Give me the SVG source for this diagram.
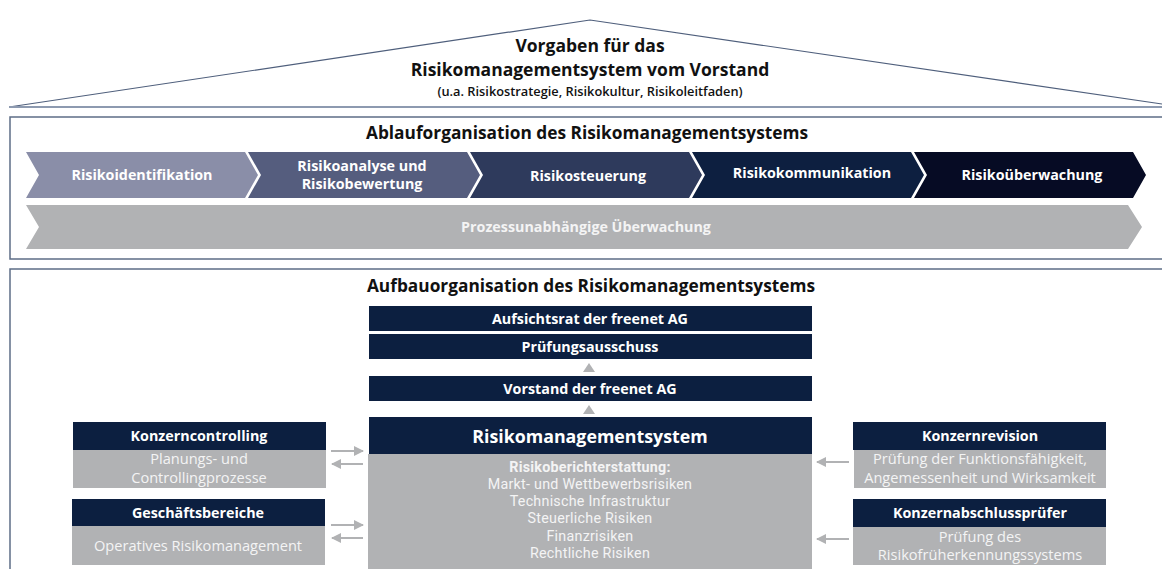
<svg xmlns="http://www.w3.org/2000/svg" width="1162" height="569" viewBox="0 0 1162 569">
<defs>
<style>
.t{font-family:"Open Sans","Noto Sans","Liberation Sans",sans-serif;text-anchor:middle}
.tr{font-family:Roboto,"Liberation Sans",sans-serif;text-anchor:middle;font-size:14.3px;letter-spacing:0.25px}
.b{font-weight:700}
.w{fill:#ffffff}
.lw{fill:#f4f4f4}
.k{fill:#111111}
.nav{fill:#0c1f40}
.gr{fill:#b1b2b4}
.frame{fill:none;stroke:#5d6d87;stroke-width:1.5}
.arr{stroke:#b1b2b4;stroke-width:2;fill:none}
.h{font-size:17.3px}
.c{font-size:14.3px}
.n{font-size:14.3px}
.r{font-size:14.6px}
</style>
<marker id="ah" viewBox="0 0 10 10" refX="9" refY="5" markerWidth="10" markerHeight="10" markerUnits="userSpaceOnUse" orient="auto">
<path d="M0,0 L10,5 L0,10 Z" fill="#b1b2b4"/>
</marker>
</defs>
<rect width="1162" height="569" fill="#ffffff"/>

<g id="roof">
<polyline points="9,107 590,20 1162,104" fill="none" stroke="#4f5f7c" stroke-width="1.2"/>
<line x1="9" y1="107" x2="1162" y2="107" stroke="#8d9ab0" stroke-width="2"/>
<text class="t b k" x="590" y="52" font-size="17.5">Vorgaben für das</text>
<text class="t b k" x="590" y="76" font-size="17.5">Risikomanagementsystem vom Vorstand</text>
<text class="t k" x="590" y="96" font-size="12.8" font-weight="600">(u.a. Risikostrategie, Risikokultur, Risikoleitfaden)</text>
</g>

<g id="ablauf">
<path class="frame" d="M1162,117 H10 V259 H1162"/>
<text class="t b k h" x="587" y="139">Ablauforganisation des Risikomanagementsystems</text>
</g>

<g id="chev1">
<polygon points="26,152 245,152 258,175 245,198 26,198 39,175" fill="#8a8ea8"/>
<text class="t b w c" x="142" y="180">Risikoidentifikation</text>
</g>
<g id="chev2">
<polygon points="248,152 467,152 480,175 467,198 248,198 261,175" fill="#555d7e"/>
<text class="t b w c" x="362" y="171">Risikoanalyse und</text>
<text class="t b w c" x="362" y="189">Risikobewertung</text>
</g>
<g id="chev3">
<polygon points="470,152 689,152 702,175 689,198 470,198 483,175" fill="#2e3a5c"/>
<text class="t b w c" x="588" y="181">Risikosteuerung</text>
</g>
<g id="chev4">
<polygon points="692,152 911,152 924,175 911,198 692,198 705,175" fill="#0d1f40"/>
<text class="t b w c" x="812" y="178">Risikokommunikation</text>
</g>
<g id="chev5">
<polygon points="914,152 1133,152 1146,175 1133,198 914,198 927,175" fill="#060b24"/>
<text class="t b w c" x="1032" y="180">Risikoüberwachung</text>
</g>
<g id="prozess">
<polygon points="26,205 1128,205 1142,227 1128,249 26,249 39,227" fill="#b1b2b4"/>
<text class="t b lw c" x="586" y="232">Prozessunabhängige Überwachung</text>
</g>

<g id="aufbau">
<path class="frame" d="M1162,269 H10 V569"/>
<text class="t b k h" x="591" y="292">Aufbauorganisation des Risikomanagementsystems</text>
</g>

<g id="aufsichtsrat">
<rect class="nav" x="369" y="306" width="443" height="25"/>
<text class="t b w n" x="590" y="323.5">Aufsichtsrat der freenet AG</text>
</g>
<g id="pruefungsausschuss">
<rect class="nav" x="369" y="334" width="443" height="25"/>
<text class="t b w n" x="590" y="351.5">Prüfungsausschuss</text>
</g>
<g id="vorstand">
<rect class="nav" x="369" y="376" width="443" height="25"/>
<text class="t b w n" x="590" y="393.5">Vorstand der freenet AG</text>
</g>
<g id="rms">
<rect class="nav" x="369" y="417" width="443" height="37"/>
<rect class="gr" x="368" y="454" width="444" height="115"/>
<text class="t b w" x="590" y="442.5" font-size="17.8">Risikomanagementsystem</text>
<text class="tr b lw" x="590" y="471.5">Risikoberichterstattung:</text>
<text class="tr lw" x="590" y="489">Markt- und Wettbewerbsrisiken</text>
<text class="tr lw" x="590" y="506.2">Technische Infrastruktur</text>
<text class="tr lw" x="590" y="523.4">Steuerliche Risiken</text>
<text class="tr lw" x="590" y="540.6">Finanzrisiken</text>
<text class="tr lw" x="590" y="557.8">Rechtliche Risiken</text>
</g>

<g id="konzerncontrolling">
<rect class="nav" x="73" y="422" width="253" height="28"/>
<rect class="gr" x="73" y="450" width="253" height="38"/>
<text class="t b w n" x="199" y="441">Konzerncontrolling</text>
<text class="t lw r" x="199" y="464">Planungs- und</text>
<text class="t lw r" x="199" y="483">Controllingprozesse</text>
</g>
<g id="geschaeftsbereiche">
<rect class="nav" x="72" y="499" width="253" height="27"/>
<rect class="gr" x="72" y="526" width="253" height="39"/>
<text class="t b w n" x="198" y="518">Geschäftsbereiche</text>
<text class="t lw r" x="198" y="551">Operatives Risikomanagement</text>
</g>
<g id="konzernrevision">
<rect class="nav" x="853" y="422" width="253" height="28"/>
<rect class="gr" x="854" y="450" width="252" height="38"/>
<text class="t b w n" x="980" y="441">Konzernrevision</text>
<text class="t lw r" x="980" y="464">Prüfung der Funktionsfähigkeit,</text>
<text class="t lw r" x="980" y="483">Angemessenheit und Wirksamkeit</text>
</g>
<g id="konzernabschlusspruefer">
<rect class="nav" x="853" y="499" width="253" height="28"/>
<rect class="gr" x="853" y="527" width="253" height="38"/>
<text class="t b w n" x="980" y="518">Konzernabschlussprüfer</text>
<text class="t lw r" x="980" y="542">Prüfung des</text>
<text class="t lw r" x="980" y="560">Risikofrüherkennungssystems</text>
</g>

<g id="connectors">
<polygon points="589,363 595,372 583,372" fill="#b1b2b4"/>
<polygon points="589,405 595,414 583,414" fill="#b1b2b4"/>
<line class="arr" x1="331" y1="451" x2="363" y2="451" marker-end="url(#ah)"/>
<line class="arr" x1="363" y1="464" x2="332" y2="464" marker-end="url(#ah)"/>
<line class="arr" x1="331" y1="525" x2="363" y2="525" marker-end="url(#ah)"/>
<line class="arr" x1="363" y1="538" x2="332" y2="538" marker-end="url(#ah)"/>
<line class="arr" x1="849" y1="462" x2="817" y2="462" marker-end="url(#ah)"/>
<line class="arr" x1="849" y1="539" x2="817" y2="539" marker-end="url(#ah)"/>
</g>
</svg>
